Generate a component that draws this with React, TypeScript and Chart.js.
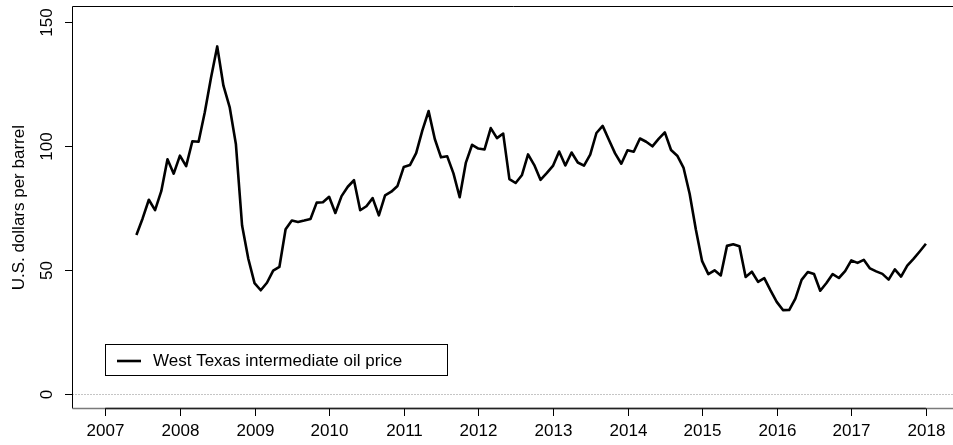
import React, { useEffect, useRef } from "react";
import { Chart, registerables } from "chart.js";

Chart.register(...registerables);

// End-of-month WTI prices (U.S. dollars per barrel)
const startYear = 2007;
const startMonth = 5; // May 2007
const prices2007 = [64.01, 70.68, 78.21, 74.04, 81.66, 94.53, 88.71, 95.98];
const prices2008 = [91.75, 101.78, 101.58, 113.46, 127.35, 140.0, 124.17, 115.55, 100.7, 67.81, 54.43, 44.6];
const prices2009 = [41.73, 44.76, 49.64, 51.12, 66.31, 69.82, 69.26, 69.82, 70.46, 77.04, 77.19, 79.39];
const prices2010 = [72.89, 79.66, 83.45, 86.07, 73.97, 75.59, 78.85, 71.93, 79.95, 81.45, 83.76, 91.38];
const prices2011 = [92.19, 96.97, 106.19, 113.93, 102.7, 95.3, 95.7, 88.81, 79.2, 93.19, 100.36, 98.83];
const prices2012 = [98.48, 107.07, 103.02, 104.87, 86.53, 84.96, 88.06, 96.47, 92.18, 86.24, 88.91, 91.83];
const prices2013 = [97.65, 92.03, 97.24, 93.22, 91.93, 96.36, 105.1, 107.98, 102.36, 96.9, 92.72, 98.17];
const prices2014 = [97.55, 102.88, 101.57, 99.74, 102.71, 105.37, 98.23, 95.96, 91.17, 80.53, 66.15, 53.45];
const prices2015 = [48.24, 49.76, 47.72, 59.62, 60.25, 59.48, 47.11, 49.2, 45.09, 46.59, 41.65, 37.04];
const prices2016 = [33.74, 33.75, 38.34, 45.92, 49.1, 48.27, 41.54, 44.68, 48.24, 46.67, 49.41, 53.75];
const prices2017 = [52.75, 54.0, 50.54, 49.33, 48.32, 46.02, 50.17, 47.23, 51.64, 54.38, 57.36, 60.46];

const yearlyPrices = [
  prices2007, prices2008, prices2009, prices2010, prices2011, prices2012,
  prices2013, prices2014, prices2015, prices2016, prices2017,
];

const xTicks = [2007, 2008, 2009, 2010, 2011, 2012, 2013, 2014, 2015, 2016, 2017, 2018];
const yTicks = [0, 50, 100, 150];
const yTitle = "U.S. dollars per barrel";
const seriesLabel = "West Texas intermediate oil price";

function buildPoints() {
  const pts: { x: number; y: number }[] = [];
  yearlyPrices.forEach((arr, yi) => {
    const year = startYear + yi;
    const m0 = yi === 0 ? startMonth : 1;
    arr.forEach((v, i) => {
      const month = m0 + i;
      pts.push({ x: year + month / 12, y: v });
    });
  });
  return pts;
}

const FONT = '17px "Liberation Sans", Arial, Helvetica, sans-serif';

const axesPlugin = {
  id: "rAxes",
  afterDraw(chart: any) {
    const ctx = chart.ctx as CanvasRenderingContext2D;
    const xs = chart.scales.x;
    const ys = chart.scales.y;
    const area = chart.chartArea;
    ctx.save();

    // dotted zero line
    const y0 = Math.round(ys.getPixelForValue(0)) + 0.5;
    ctx.strokeStyle = "#8a8a8a";
    ctx.lineWidth = 1;
    ctx.setLineDash([1, 2]);
    ctx.beginPath();
    ctx.moveTo(area.left, y0);
    ctx.lineTo(area.right, y0);
    ctx.stroke();
    ctx.setLineDash([]);

    // box: left and top
    const left = 72.5;
    const top = 6.5;
    const bottom = 408.5;
    ctx.strokeStyle = "#000";
    ctx.lineWidth = 1;
    ctx.beginPath();
    ctx.moveTo(area.right + 2, top);
    ctx.lineTo(left, top);
    ctx.lineTo(left, bottom);
    ctx.stroke();
    // bottom box (lighter)
    ctx.strokeStyle = "#7a7a7a";
    ctx.lineWidth = 1.5;
    ctx.beginPath();
    ctx.moveTo(left, bottom);
    ctx.lineTo(area.right + 2, bottom);
    ctx.stroke();

    // x axis
    ctx.strokeStyle = "#222";
    ctx.lineWidth = 1.5;
    const xa = xs.getPixelForValue(xTicks[0]);
    const xb = xs.getPixelForValue(xTicks[xTicks.length - 1]);
    ctx.beginPath();
    ctx.moveTo(xa, bottom);
    ctx.lineTo(xb, bottom);
    ctx.stroke();
    ctx.lineWidth = 1;
    ctx.strokeStyle = "#000";
    ctx.fillStyle = "#000";
    ctx.font = FONT;
    ctx.textAlign = "center";
    ctx.textBaseline = "middle";
    xTicks.forEach((t) => {
      const px = Math.round(xs.getPixelForValue(t)) + 0.5;
      ctx.beginPath();
      ctx.moveTo(px, bottom);
      ctx.lineTo(px, 416);
      ctx.stroke();
      ctx.fillText(String(t), px, 431);
    });

    // y axis
    yTicks.forEach((t) => {
      const py = Math.round(ys.getPixelForValue(t)) + 0.5;
      ctx.beginPath();
      ctx.moveTo(65, py);
      ctx.lineTo(left, py);
      ctx.stroke();
      ctx.save();
      ctx.translate(47, py);
      ctx.rotate(-Math.PI / 2);
      ctx.fillText(String(t), 0, 0);
      ctx.restore();
    });

    // y title
    ctx.save();
    ctx.translate(19, (area.top + area.bottom) / 2);
    ctx.rotate(-Math.PI / 2);
    ctx.fillText(yTitle, 0, 0);
    ctx.restore();

    // legend
    ctx.lineWidth = 1;
    ctx.strokeStyle = "#000";
    ctx.strokeRect(105.5, 344.5, 342, 31);
    ctx.lineWidth = 2.6;
    ctx.beginPath();
    ctx.moveTo(117, 361);
    ctx.lineTo(141, 361);
    ctx.stroke();
    ctx.textAlign = "left";
    ctx.fillText(seriesLabel, 153, 361);

    ctx.restore();
  },
};

export default function App() {
  const ref = useRef<HTMLCanvasElement | null>(null);
  useEffect(() => {
    if (!ref.current) return;
    const chart = new Chart(ref.current, {
      type: "line",
      data: {
        datasets: [
          {
            label: seriesLabel,
            data: buildPoints(),
            borderColor: "#000",
            borderWidth: 2.6,
            pointRadius: 0,
            tension: 0,
            fill: false,
            borderJoinStyle: "round",
          },
        ],
      },
      options: {
        responsive: false,
        animation: false,
        devicePixelRatio: 1,
        layout: { padding: { left: 72.5, right: 0, top: 6.7, bottom: 36.3 } },
        scales: {
          x: { type: "linear", min: 2006.56, max: 2018.363, display: false },
          y: { type: "linear", min: -6, max: 156, display: false },
        },
        plugins: { legend: { display: false }, tooltip: { enabled: false } },
      },
      plugins: [axesPlugin],
    });
    return () => chart.destroy();
  }, []);
  return (
    <canvas
      ref={ref}
      width={953}
      height={445}
      style={{ position: "absolute", left: 0, top: 0, display: "block", background: "#fff" }}
    />
  );
}
